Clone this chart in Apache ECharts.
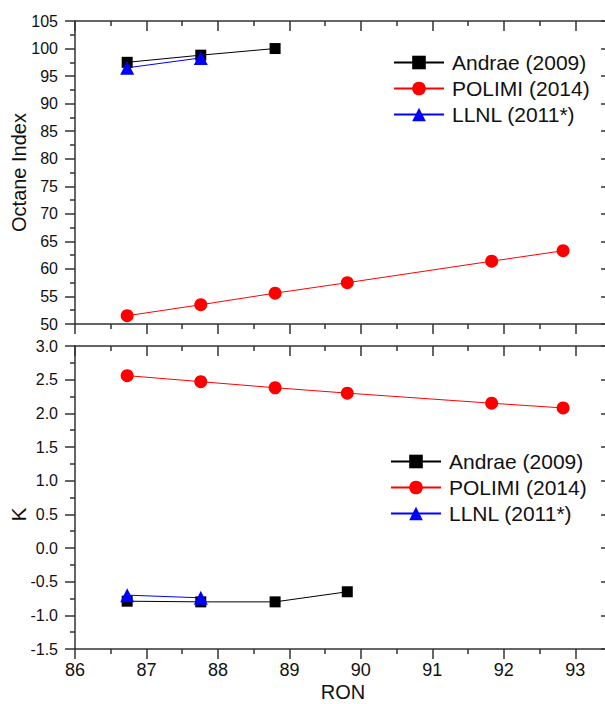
<!DOCTYPE html>
<html>
<head>
<meta charset="utf-8">
<script src="https://cdn.jsdelivr.net/npm/echarts@6/dist/echarts.min.js"></script>
<style>
  html, body { margin: 0; padding: 0; background: #fff; }
  #chart { width: 605px; height: 704px; }
</style>
</head>
<body>
<div id="chart"></div>
<script>
// RON values for each data set
var ronAll = [86.73, 87.76, 88.80, 89.81, 91.83, 92.83];
var ronAndraeTop = [86.73, 87.76, 88.80];
var ronAndraeK = [86.73, 87.76, 88.80, 89.81];
var ronLlnl = [86.73, 87.76];

// top panel: octane index
var andraeOI = [97.5, 98.8, 100.0];
var polimiOI = [51.5, 53.5, 55.6, 57.5, 61.4, 63.3];
var llnlOI = [96.5, 98.3];

// bottom panel: K
var andraeK = [-0.79, -0.80, -0.80, -0.65];
var polimiK = [2.56, 2.47, 2.38, 2.30, 2.15, 2.08];
var llnlK = [-0.70, -0.74];

var names = ['Andrae (2009)', 'POLIMI (2014)', 'LLNL (2011*)'];

function pairs(xs, ys) {
    var out = [];
    for (var i = 0; i < ys.length; i++) out.push([xs[i], ys[i]]);
    return out;
}

var font = '"Liberation Sans", Arial, sans-serif';
var axisColor = '#333';

function lineSeries(name, color, symbol, size, xi, yi, data) {
    return {
        name: name,
        type: 'line',
        xAxisIndex: xi,
        yAxisIndex: yi,
        data: data,
        symbol: symbol,
        symbolSize: size,
        lineStyle: { color: color, width: 1 },
        itemStyle: { color: color },
        animation: false
    };
}

function xAxisBase(grid, pos, showLabel, inside) {
    return {
        type: 'value',
        gridIndex: grid,
        position: pos,
        min: 86,
        max: 93.5,
        interval: 1,
        splitLine: { show: false },
        axisLine: { show: true, onZero: false, lineStyle: { color: axisColor, width: 1.5 } },
        axisTick: { show: true, inside: inside, length: 10, lineStyle: { color: axisColor, width: 1.5 } },
        minorTick: { show: true, splitNumber: 2, length: 5, lineStyle: { color: axisColor, width: 1.5 } },
        axisLabel: {
            show: showLabel,
            margin: 12,
            fontSize: 18,
            fontFamily: font,
            color: '#111',
            formatter: function (v) { return v % 1 === 0 ? String(v) : ''; }
        }
    };
}

function yAxisBase(grid, pos, min, max, interval, inside, showLabel, fmt) {
    return {
        type: 'value',
        gridIndex: grid,
        position: pos,
        min: min,
        max: max,
        interval: interval,
        splitLine: { show: false },
        axisLine: { show: true, onZero: false, lineStyle: { color: axisColor, width: 1.5 } },
        axisTick: { show: true, inside: inside, length: 10, lineStyle: { color: axisColor, width: 1.5 } },
        minorTick: { show: true, splitNumber: 2, length: 5, lineStyle: { color: axisColor, width: 1.5 } },
        axisLabel: {
            show: showLabel,
            margin: 17,
            fontSize: 16,
            fontFamily: font,
            color: '#111',
            formatter: fmt
        }
    };
}

var xTop = xAxisBase(0, 'bottom', false, false);
var xTopMirror = xAxisBase(0, 'top', false, true);
var xBot = xAxisBase(1, 'bottom', true, false);
xBot.name = 'RON';
xBot.nameLocation = 'middle';
xBot.nameGap = 33;
xBot.nameMoveOverlap = false;
xBot.nameTextStyle = { fontSize: 20, fontFamily: font, color: '#111' };
var xBotMirror = xAxisBase(1, 'top', false, true);

var yTop = yAxisBase(0, 'left', 50, 105, 5, false, true, function (v) { return String(v); });
yTop.name = 'Octane Index';
yTop.nameLocation = 'middle';
yTop.nameGap = 46;
yTop.nameMoveOverlap = false;
yTop.nameTextStyle = { fontSize: 20, fontFamily: font, color: '#111' };
var yTopMirror = yAxisBase(0, 'right', 50, 105, 5, true, false);

var yBot = yAxisBase(1, 'left', -1.5, 3.0, 0.5, false, true, function (v) { return v.toFixed(1); });
yBot.name = 'K';
yBot.nameLocation = 'middle';
yBot.nameGap = 46;
yBot.nameMoveOverlap = false;
yBot.nameTextStyle = { fontSize: 21, fontFamily: font, color: '#111', padding: [0, 34, 0, 0] };
var yBotMirror = yAxisBase(1, 'right', -1.5, 3.0, 0.5, true, false);

function legendAt(left, top) {
    return {
        data: names,
        orient: 'vertical',
        left: left,
        top: top,
        itemWidth: 50,
        itemHeight: 17,
        itemGap: 5,
        selectedMode: false,
        textStyle: { fontSize: 21, lineHeight: 21, fontFamily: font, color: '#111', padding: [0, 0, 0, 3] }
    };
}

var option = {
    backgroundColor: '#fff',
    animation: false,
    legend: [legendAt(388, 47), legendAt(385, 446)],
    grid: [
        { left: 75, top: 21, width: 536, height: 303, outerBoundsMode: 'none' },
        { left: 75, top: 346, width: 536, height: 303, outerBoundsMode: 'none' }
    ],
    xAxis: [xTop, xTopMirror, xBot, xBotMirror],
    yAxis: [yTop, yTopMirror, yBot, yBotMirror],
    series: [
        lineSeries(names[0], '#000000', 'rect', 11, 0, 0, pairs(ronAndraeTop, andraeOI)),
        lineSeries(names[1], '#ff0000', 'circle', 13, 0, 0, pairs(ronAll, polimiOI)),
        lineSeries(names[2], '#0000ff', 'triangle', 14, 0, 0, pairs(ronLlnl, llnlOI)),
        lineSeries(names[0], '#000000', 'rect', 11, 2, 2, pairs(ronAndraeK, andraeK)),
        lineSeries(names[1], '#ff0000', 'circle', 13, 2, 2, pairs(ronAll, polimiK)),
        lineSeries(names[2], '#0000ff', 'triangle', 14, 2, 2, pairs(ronLlnl, llnlK))
    ]
};

var chart = echarts.init(document.getElementById('chart'), null, { renderer: 'svg' });
chart.setOption(option);
</script>
</body>
</html>
